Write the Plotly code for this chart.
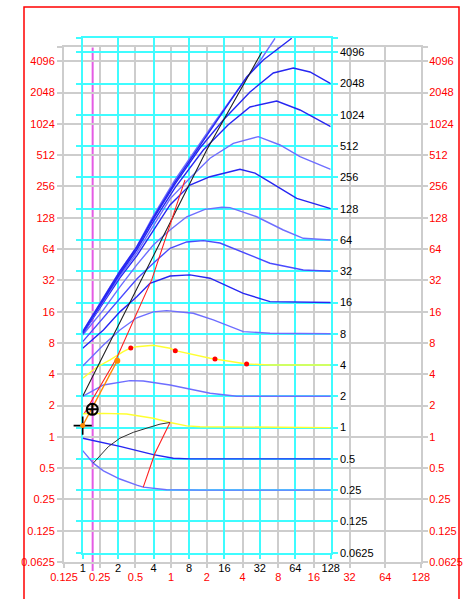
import math
import plotly.graph_objects as go

W, H = 471, 599

# ---- tick values -------------------------------------------------------
red_x_ticks = [0.125, 0.25, 0.5, 1, 2, 4, 8, 16, 32, 64, 128]
pow2_y_ticks = [0.0625, 0.125, 0.25, 0.5, 1, 2, 4, 8, 16, 32, 64, 128,
                256, 512, 1024, 2048, 4096]
black_x_ticks = [1, 2, 4, 8, 16, 32, 64, 128]

# ---- response curves (x, y) ---------------------------------------------
x_q = [1, 1.23, 1.5, 2.07, 2.88, 3.27, 5.17, 9.92, 128]
y_q = [0.60, 0.455, 0.383, 0.32, 0.28, 0.267, 0.252, 0.25, 0.25]

x_h = [1, 2.07, 3.98, 5.89, 8.16, 128]
y_h = [0.79, 0.66, 0.55, 0.507, 0.5, 0.5]

x_1 = [1, 1.5, 2.36, 3.98, 5.52, 7.65, 9.92, 128]
y_1 = [1.36, 1.37, 1.35, 1.23, 1.12, 1.04, 1.02, 1.0]

x_2 = [1, 1.5, 2.52, 3.27, 5.52, 7.65, 12.1, 20.4, 128]
y_2 = [2.0, 2.57, 2.83, 2.81, 2.57, 2.39, 2.14, 2.0, 2.0]

x_4 = [1, 1.315, 1.71, 2.21, 2.56, 2.88, 3.98, 5.52, 6.12, 7.65, 12.1, 13.3,
       20.4, 24.7, 39.1, 128]
y_4 = [2.99, 3.81, 4.48, 5.38, 5.84, 6.01, 6.2, 5.80, 5.50, 5.19, 4.65, 4.58,
       4.2, 4.10, 4.0, 4.0]

x_8 = [1, 1.5, 2.07, 2.88, 3.98, 5.17, 8.70, 12.87, 23.15, 39.03, 128]
y_8 = [3.92, 6.25, 8.71, 11.4, 13.0, 13.35, 12.6, 10.9, 8.39, 8.1, 8.0]

x_16 = [1, 1.5, 2.07, 2.88, 3.73, 5.52, 8.16, 12.07, 23.15, 39.03, 128]
y_16 = [5.80, 8.71, 13.0, 18.2, 24.5, 28.8, 29.5, 27.4, 19.6, 16.3, 16]

x_32 = [1, 1.5, 2.07, 2.88, 3.98, 5.52, 7.65, 10.59, 14.67, 20.35, 39.03,
        74.86, 128]
y_32 = [6.72, 11.4, 17.7, 26.9, 38.2, 53.2, 61.2, 63.0, 59.8, 51.3, 38.2,
        32.9, 32]

x_64 = [1, 1.5, 2.07, 2.88, 3.98, 5.52, 7.65, 10.94, 15.26, 17.85, 30.09,
        50.64, 74.86, 128]
y_64 = [7.79, 13.6, 22.6, 36.8, 57.2, 79.8, 107, 126, 132, 131, 107, 79.8,
        66.4, 64]

x_128 = [1, 1.5, 2.07, 2.88, 3.98, 5.52, 8.16, 12.07, 21.7, 29.1, 39.03,
         65.8, 128]
y_128 = [7.97, 15.8, 27.6, 44.9, 79.8, 139, 216, 260, 306, 282, 231, 161, 128]

x_256 = [1, 1.5, 2.07, 2.88, 3.98, 5.52, 8.16, 12.07, 19.04, 31.04, 47.47,
         70.18, 128]
y_256 = [8.06, 16.4, 28.8, 48.0, 87.2, 159, 253, 391, 545, 631, 525, 405, 306]

x_512 = [1, 1.5, 2.07, 2.88, 3.98, 6.08, 10.59, 17.16, 26.39, 44.5, 70.18, 128]
y_512 = [8.15, 16.7, 30.1, 51.3, 95.3, 203, 470, 818, 1219, 1392, 1140, 788]

x_1k = [1, 1.5, 2.07, 2.88, 3.98, 6.08, 9.92, 15.65, 26.39, 41.64, 61.57,
        85.37, 128]
y_1k = [8.24, 17.1, 31.1, 53.6, 102, 221, 491, 914, 1700, 2589, 2892, 2647,
        2048]

x_t1 = [1, 1.5, 2.07, 2.88, 3.98, 6.08, 12.87, 23.93, 33.37, 43.05]
y_t1 = [8.42, 17.6, 32.2, 55.1, 109, 242, 836, 2217, 3610, 5584]

x_t2 = [1, 1.5, 2.07, 2.88, 3.98, 6.08, 12.87, 24.74, 34.23, 47.47, 59.68]
y_t2 = [8.33, 17.3, 31.8, 54.8, 105, 231, 800, 2369, 3454, 4606, 5584]

# ---- construction lines and points ---------------------------------------
x_black = [1.0, 3.068, 11.31, 33.2]
y_black = [2.0, 24.7, 470, 4096]

x_black_low = [1.23, 1.65, 2.07, 2.69, 3.73, 4.54, 5.52]
y_black_low = [0.455, 0.655, 0.79, 0.90, 1.01, 1.08, 1.12]

x_red_low = [5.52, 4.11, 3.27]
y_red_low = [1.12, 0.567, 0.267]

x_red = [1.036, 1.945, 3.857, 7.40]
y_red = [1.38, 4.68, 26.4, 242]

x_orange = [1.0, 1.968]
y_orange = [1.045, 4.41]

dot_x = [2.56, 6.12, 13.3, 24.7]
dot_y = [5.84, 5.50, 4.58, 4.10]

start_pt = (1.0, 1.045)
target_pt = (1.207, 1.50)
marker_x = 1.215

BLUE = "#2626f2"
PURPLE = "#6e6eff"
YELLOW = "#ffff30"

curves = [
    (x_q, y_q, PURPLE), (x_h, y_h, BLUE), (x_1, y_1, YELLOW),
    (x_2, y_2, PURPLE), (x_4, y_4, YELLOW), (x_8, y_8, PURPLE),
    (x_16, y_16, BLUE), (x_32, y_32, "#4a4aff"), (x_64, y_64, PURPLE),
    (x_128, y_128, BLUE), (x_256, y_256, PURPLE), (x_512, y_512, BLUE),
    (x_1k, y_1k, BLUE), (x_t1, y_t1, PURPLE), (x_t2, y_t2, BLUE),
]

fig = go.Figure()

# empty traces so the red-labelled frame (x/y and its right-hand copy) is built
fig.add_trace(go.Scatter(x=[], y=[], xaxis="x", yaxis="y", hoverinfo="skip"))
fig.add_trace(go.Scatter(x=[], y=[], xaxis="x", yaxis="y3", hoverinfo="skip"))

for cx, cy, col in curves:
    fig.add_trace(go.Scatter(x=cx, y=cy, mode="lines", xaxis="x2", yaxis="y2",
                             line=dict(color=col, width=1.4)))

for lx_, ly_, col, wd in [
    (x_black, y_black, "#202020", 1.1),
    (x_black_low, y_black_low, "#303030", 1.0),
    (x_red_low, y_red_low, "#ff2020", 1.1),
    (x_orange, y_orange, "#ff8a00", 1.3),
    (x_red, y_red, "#ff2020", 1.1),
]:
    fig.add_trace(go.Scatter(x=lx_, y=ly_, mode="lines", xaxis="x2", yaxis="y2",
                             line=dict(color=col, width=wd)))

fig.add_trace(go.Scatter(x=dot_x, y=dot_y, mode="markers", xaxis="x2", yaxis="y2",
                         marker=dict(color="#ff0000", size=5)))
fig.add_trace(go.Scatter(x=[x_orange[-1]], y=[y_orange[-1]], mode="markers",
                         xaxis="x2", yaxis="y2",
                         marker=dict(color="#ff8a00", size=6)))
fig.add_trace(go.Scatter(x=[target_pt[0]], y=[target_pt[1]], mode="markers",
                         xaxis="x2", yaxis="y2", cliponaxis=False,
                         marker=dict(symbol="circle-cross-open", size=11,
                                     color="#000000", line=dict(width=2))))
fig.add_trace(go.Scatter(x=[start_pt[0]], y=[start_pt[1]], mode="markers",
                         xaxis="x2", yaxis="y2", cliponaxis=False,
                         marker=dict(symbol="cross-thin-open", size=13,
                                     color="#000000",
                                     line=dict(width=1.6, color="#000000"))))
fig.add_trace(go.Scatter(x=[start_pt[0]], y=[start_pt[1]], mode="markers",
                         xaxis="x2", yaxis="y2", cliponaxis=False,
                         marker=dict(color="#ff8a00", size=5)))

# ---- axes ----------------------------------------------------------------
def px_x(p):
    return p / W


def px_y(p):
    return 1 - p / H


gray_top = 2 ** 12.467
cyan_top = 2 ** 12.457
FONT = "Liberation Sans, Arial, sans-serif"
GRAY = "#cdcdcd"
CYAN = "#3ffcff"


def labels(vals):
    return [f"{v:g}" for v in vals]


gray_common = dict(type="log", gridcolor=GRAY, gridwidth=2, ticks="outside",
                   tickcolor=GRAY, tickwidth=2, zeroline=False, automargin=False,
                   showline=True, linecolor=GRAY, linewidth=2)
cyan_common = dict(type="log", gridcolor=CYAN, gridwidth=2, ticks="outside",
                   tickcolor=CYAN, tickwidth=2, zeroline=False, automargin=False,
                   showline=True, linecolor=CYAN, linewidth=2,
                   layer="below traces")

fig.update_layout(
    width=W, height=H, autosize=False,
    margin=dict(l=0, r=0, t=0, b=0, pad=0),
    paper_bgcolor="white", plot_bgcolor="rgba(0,0,0,0)",
    showlegend=False,
    font=dict(family=FONT, size=11),
    xaxis=dict(**gray_common, domain=[px_x(64), px_x(421)], anchor="y",
               range=[math.log10(0.125), math.log10(128)],
               tickvals=red_x_ticks, ticktext=labels(red_x_ticks),
               tickfont=dict(color="#ff0000", size=11), ticklen=4, mirror=True),
    yaxis=dict(**gray_common, domain=[px_y(562), px_y(46.7)], anchor="x",
               range=[math.log10(0.0625), math.log10(gray_top)],
               tickvals=pow2_y_ticks + [gray_top],
               ticktext=labels(pow2_y_ticks) + [""],
               tickfont=dict(color="#ff0000", size=11), ticklen=5,
               mirror="ticks"),
    yaxis3=dict(type="log", overlaying="y", side="right", anchor="x",
                automargin=False,
                range=[math.log10(0.0625), math.log10(gray_top)],
                tickvals=pow2_y_ticks, ticktext=labels(pow2_y_ticks),
                tickfont=dict(color="#ff0000", size=11), showgrid=False,
                zeroline=False, ticks="outside", ticklen=5, tickwidth=2,
                tickcolor=GRAY, showline=False),
    xaxis2=dict(**cyan_common, domain=[px_x(82.7), px_x(330.7)], anchor="y2",
                range=[0, math.log10(128)],
                tickvals=black_x_ticks, ticktext=labels(black_x_ticks),
                tickfont=dict(color="#000000", size=11), ticklen=4,
                mirror=True),
    yaxis2=dict(**cyan_common, domain=[px_y(552.7), px_y(38)], anchor="x2",
                side="right",
                range=[math.log10(0.0625), math.log10(cyan_top)],
                tickvals=pow2_y_ticks + [cyan_top],
                ticktext=labels(pow2_y_ticks) + [""],
                tickfont=dict(color="#000000", size=11), ticklen=5,
                mirror="ticks"),
    shapes=[
        dict(type="rect", xref="paper", yref="paper",
             x0=px_x(24), x1=px_x(459), y0=-0.05, y1=px_y(7),
             line=dict(color="#ff0000", width=1.5), fillcolor="rgba(0,0,0,0)",
             layer="above"),
        dict(type="line", xref="x2", yref="paper", x0=marker_x, x1=marker_x,
             y0=px_y(571), y1=px_y(47.5),
             line=dict(color="#e45ce4", width=2), layer="between"),
    ],
)

fig.write_html("out.html")
